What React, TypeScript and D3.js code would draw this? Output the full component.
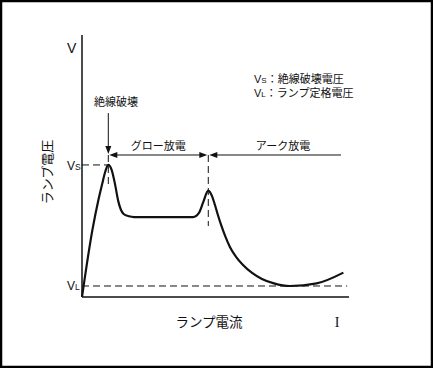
import React from "react";
import * as d3 from "d3";

// Current (x) and voltage (y), arbitrary units 0..100
const curveCurrent = [0, 3.9, 6.2, 7.5, 8.7, 9.85, 11.1, 12.4, 13.6, 15.5, 17.6, 19.5, 30, 41.6, 43.8, 45.3, 47.3, 48.7, 49.8, 50.9, 52.1, 53.6, 55.4, 57.7, 60.3, 63.7, 67.4, 71.9, 77.9, 87.9, 97.9];
const curveVoltage = [0, 25.6, 37.3, 42.9, 47.8, 50.4, 48.5, 42.9, 36.5, 31.8, 30.8, 30.5, 30.5, 30.5, 32.1, 35.9, 40.6, 38.5, 35.1, 31.3, 27.5, 23.3, 19.1, 15.3, 12.2, 9.2, 6.9, 5.2, 4.2, 5.2, 9.3];

const VS = 50.4; // breakdown voltage level
const VL = 4.2; // lamp rated voltage level
const breakdownCurrent = 9.85;
const arcStartCurrent = 47.3;
const arrowLevel = 54.2;
const arrowEnd = 97;
const breakdownArrowTop = 70.2;
const dashBottom1 = 42.7;
const dashBottom2 = 27.1;
const vlLineEnd = 99.3;

const regionLabels = ["グロー放電", "アーク放電"];
const legendLines = [
  { main: "V", sub: "S", text: "：絶線破壊電圧" },
  { main: "V", sub: "L", text: "：ランプ定格電圧" },
];

const W = 433;
const H = 368;
const x = d3.scaleLinear().domain([0, 100]).range([82, 349]);
const y = d3.scaleLinear().domain([0, 100]).range([297, 35]);

const JP = "'Noto Sans CJK JP', 'Noto Sans', sans-serif";
const INK = "#111";

export default function App() {
  const pts: [number, number][] = curveCurrent.map((c, i) => [c, curveVoltage[i]]);
  const line = d3
    .line<[number, number]>()
    .x((d) => x(d[0]))
    .y((d) => y(d[1]))
    .curve(d3.curveMonotoneX);

  const arrowDown = (cx: number, tipY: number) =>
    `M${cx},${tipY} L${cx - 3},${tipY - 8} L${cx + 3},${tipY - 8} Z`;
  const arrowLeft = (tipX: number, cy: number) =>
    `M${tipX},${cy} L${tipX + 8},${cy - 3} L${tipX + 8},${cy + 3} Z`;
  const arrowRight = (tipX: number, cy: number) =>
    `M${tipX},${cy} L${tipX - 8},${cy - 3} L${tipX - 8},${cy + 3} Z`;

  const ay = y(arrowLevel);
  const xb = x(breakdownCurrent);
  const xa = x(arcStartCurrent);
  const dash = "7,4";

  return (
    <svg
      width={W}
      height={H}
      style={{ position: "absolute", left: 0, top: 0, background: "#fff" }}
    >
      <rect x={1} y={1} width={W - 2} height={H - 2} fill="#fff" stroke="#000" strokeWidth={2.5} />

      {/* axes */}
      <line x1={x(0)} y1={y(100)} x2={x(0)} y2={y(0)} stroke={INK} strokeWidth={1.5} />
      <line x1={x(0)} y1={y(0)} x2={x(100)} y2={y(0)} stroke={INK} strokeWidth={1.5} />

      {/* dashed reference lines */}
      <line x1={x(0)} y1={y(VS)} x2={xb} y2={y(VS)} stroke={INK} strokeWidth={1} strokeDasharray={dash} />
      <line x1={x(0)} y1={y(VL)} x2={x(vlLineEnd)} y2={y(VL)} stroke={INK} strokeWidth={1} strokeDasharray={dash} />
      <line x1={xb} y1={ay} x2={xb} y2={y(dashBottom1)} stroke={INK} strokeWidth={1} strokeDasharray={dash} />
      <line x1={xa} y1={ay} x2={xa} y2={y(dashBottom2)} stroke={INK} strokeWidth={1} strokeDasharray={dash} />

      {/* curve */}
      <path d={line(pts) || ""} fill="none" stroke={INK} strokeWidth={2.2} strokeLinejoin="round" />

      {/* breakdown arrow */}
      <line x1={xb} y1={y(breakdownArrowTop)} x2={xb} y2={ay - 4} stroke={INK} strokeWidth={1} />
      <path d={arrowDown(xb, ay - 1)} fill={INK} />

      {/* glow region double arrow */}
      <line x1={xb + 4} y1={ay} x2={xa - 4} y2={ay} stroke={INK} strokeWidth={1} />
      <path d={arrowLeft(xb + 1, ay)} fill={INK} />
      <path d={arrowRight(xa - 1, ay)} fill={INK} />

      {/* arc region arrow */}
      <line x1={xa + 4} y1={ay} x2={x(arrowEnd)} y2={ay} stroke={INK} strokeWidth={1} />
      <path d={arrowLeft(xa + 1, ay)} fill={INK} />

      {/* labels */}
      <text x={67} y={53} fontFamily="'Liberation Sans', Arial, sans-serif" fontSize={14} fill={INK}>
        V
      </text>
      <text x={67} y={170} fontFamily="'Liberation Sans', Arial, sans-serif" fontSize={12} fill={INK}>
        V<tspan fontSize={8.5}>S</tspan>
      </text>
      <text x={67} y={289.5} fontFamily="'Liberation Sans', Arial, sans-serif" fontSize={12} fill={INK}>
        V<tspan fontSize={8.5}>L</tspan>
      </text>

      <text x={116} y={106} textAnchor="middle" fontFamily={JP} fontSize={11} fill={INK}>
        絶線破壊
      </text>
      <text x={(xb + xa) / 2} y={150} textAnchor="middle" fontFamily={JP} fontSize={11} fill={INK}>
        {regionLabels[0]}
      </text>
      <text x={283} y={150} textAnchor="middle" fontFamily={JP} fontSize={11} fill={INK}>
        {regionLabels[1]}
      </text>

      {legendLines.map((l, i) => (
        <text key={i} x={254} y={83 + i * 14} fontFamily={JP} fontSize={11} fill={INK}>
          <tspan fontFamily="'Liberation Sans', Arial, sans-serif" fontSize={11}>{l.main}</tspan>
          <tspan fontFamily="'Liberation Sans', Arial, sans-serif" fontSize={8}>{l.sub}</tspan>
          <tspan>{l.text}</tspan>
        </text>
      ))}

      <text x={209} y={327} textAnchor="middle" fontFamily={JP} fontSize={13.5} fill={INK}>
        ランプ電流
      </text>
      <text x={337} y={327} textAnchor="middle" fontFamily="'Liberation Serif', serif" fontSize={14} fill={INK}>
        I
      </text>
      <text
        transform="translate(52,172) rotate(-90)"
        textAnchor="middle"
        fontFamily={JP}
        fontSize={13}
        fill={INK}
      >
        ランプ電圧
      </text>
    </svg>
  );
}
